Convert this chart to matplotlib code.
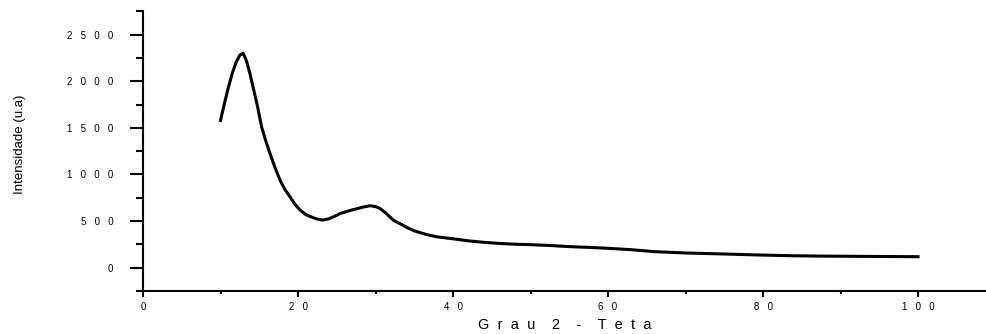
import numpy as np
import matplotlib.pyplot as plt
from matplotlib.ticker import MultipleLocator, FuncFormatter

plt.rcParams['font.family'] = ['Liberation Sans', 'DejaVu Sans']

# difratograma (2-teta em graus, intensidade em u.a.)
two_theta = [10.0, 10.5, 11.0, 11.5, 12.0, 12.5, 12.9, 13.3, 13.8, 14.3,
             14.8, 15.3, 15.8, 16.4, 17.0, 17.7, 18.3, 19.0, 19.6, 20.3,
             21.0, 21.7, 22.4, 23.2, 24.0, 24.7, 25.4, 26.2, 27.0, 27.6,
             28.4, 29.3, 30.0, 30.6, 31.4, 32.3, 33.2, 34.0, 35.0, 36.6,
             38.0, 40.0, 42.0, 44.0, 46.0, 48.0, 50.0, 52.5, 55.0, 57.5,
             60.0, 63.0, 66.0, 70.0, 75.0, 80.0, 84.0, 88.0, 92.0, 96.0,
             100.0]
intensidade = [1580, 1760, 1930, 2080, 2200, 2280, 2300, 2230, 2080, 1900,
               1720, 1510, 1370, 1220, 1080, 935, 840, 756, 680, 615,
               570, 545, 523, 510, 525, 550, 580, 600, 620, 632,
               650, 665, 655, 634, 580, 510, 470, 433, 395, 355,
               330, 310, 288, 272, 260, 252, 247, 238, 226, 218,
               208, 193, 172, 158, 147, 135, 128, 124, 122, 120,
               118]

fig = plt.figure(figsize=(9.87, 3.34), dpi=100)
ax = fig.add_axes([0.1449, 0.1287, 0.8551, 0.8376])

ax.plot(two_theta, intensidade, color='black', linewidth=2.2)

ax.set_xlim(0, 108.9)
ax.set_ylim(-250, 2750)

for side in ('top', 'right'):
    ax.spines[side].set_visible(False)
for side in ('left', 'bottom'):
    ax.spines[side].set_linewidth(1.5)

ax.xaxis.set_major_locator(MultipleLocator(20))
ax.xaxis.set_minor_locator(MultipleLocator(10))
ax.yaxis.set_major_locator(MultipleLocator(500))
ax.yaxis.set_minor_locator(MultipleLocator(250))

# digitos espaçados nos rotulos
spaced = FuncFormatter(lambda v, pos: '   '.join(str(int(round(v)))))
ax.xaxis.set_major_formatter(spaced)
ax.yaxis.set_major_formatter(spaced)
ax.set_yticks([0, 500, 1000, 1500, 2000, 2500])

ax.tick_params(axis='y', which='major', direction='out', length=9.5, width=1.5,
               pad=12, labelsize=7)
ax.tick_params(axis='y', which='minor', direction='out', length=4.8, width=1.5)
ax.tick_params(axis='x', which='major', direction='out', length=4.2, width=1.5,
               pad=4, labelsize=7)
ax.tick_params(axis='x', which='minor', direction='out', length=2.2, width=1.5)

ax.set_xlabel('G  r  a  u    2    -    T  e  t  a', fontsize=10.5)
ax.xaxis.set_label_coords(0.5, -0.095, transform=ax.transAxes)
ax.xaxis.label.set_va('top')
ax.set_ylabel('Intensidade (u.a)', fontsize=9.5)
ax.yaxis.set_label_coords(-0.139, 0.525)

fig.savefig('out.png', dpi=100)
